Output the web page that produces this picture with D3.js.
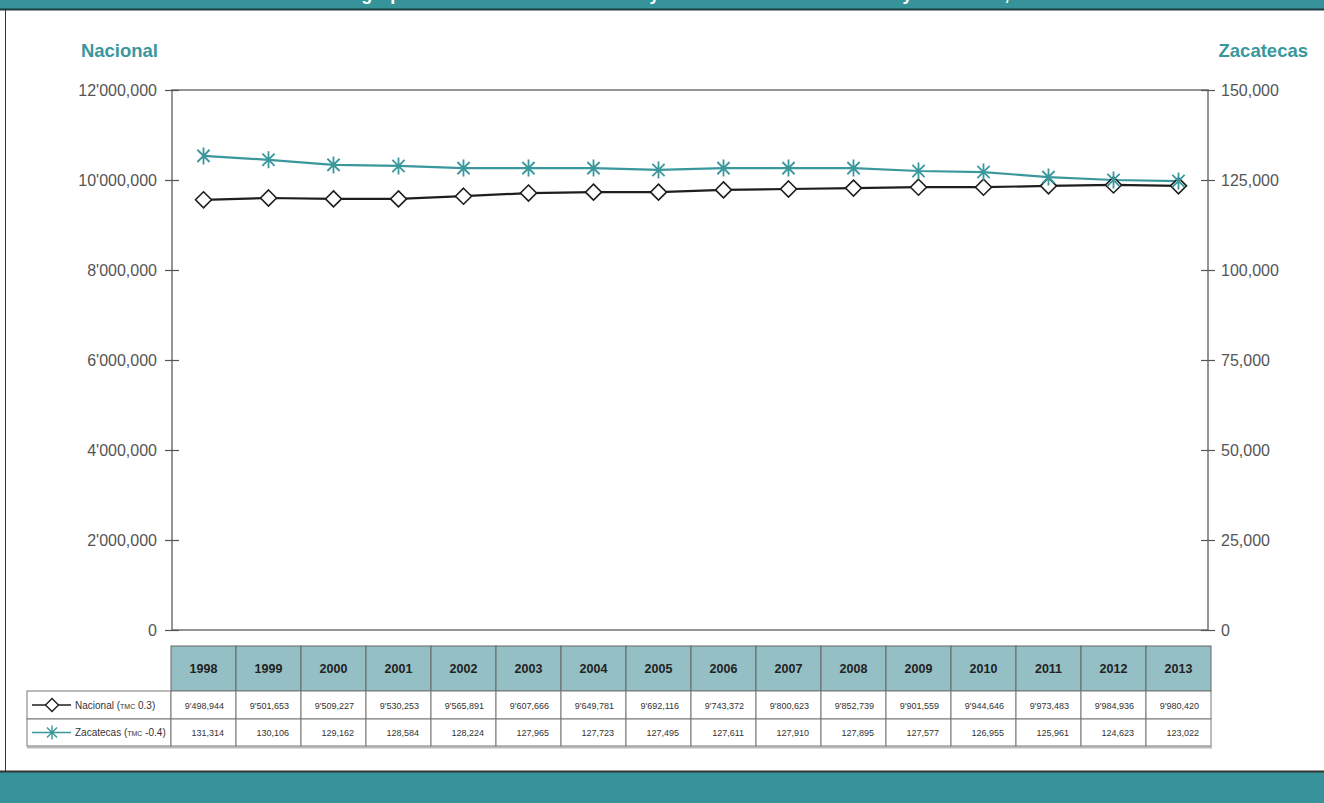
<!DOCTYPE html>
<html>
<head>
<meta charset="utf-8">
<script src="https://cdn.jsdelivr.net/npm/d3@7"></script>
<style>
  html, body { margin: 0; padding: 0; background: #fff; }
  svg { display: block; }
  text { font-family: "Liberation Sans", Arial, sans-serif; }
</style>
</head>
<body>
<svg id="chart" width="1324" height="803"></svg>
<script>
// ---------------- DATA ----------------
const years = ["1998","1999","2000","2001","2002","2003","2004","2005","2006","2007","2008","2009","2010","2011","2012","2013"];
// values printed in the data table
const nacional = [9498944, 9501653, 9509227, 9530253, 9565891, 9607666, 9649781, 9692116, 9743372, 9800623, 9852739, 9901559, 9944646, 9973483, 9984936, 9980420];
const zacatecas = [131314, 130106, 129162, 128584, 128224, 127965, 127723, 127495, 127611, 127910, 127895, 127577, 126955, 125961, 124623, 123022];
const nacionalLine = [9560000, 9600000, 9580000, 9580000, 9640000, 9710000, 9730000, 9730000, 9780000, 9800000, 9820000, 9840000, 9840000, 9870000, 9890000, 9870000];
const zacatecasLine = [131700, 130600, 129200, 128900, 128300, 128300, 128300, 127800, 128300, 128300, 128300, 127500, 127200, 125800, 125000, 124700];
const leftTicks = [0, 2000000, 4000000, 6000000, 8000000, 10000000, 12000000];
const rightTicks = [0, 25000, 50000, 75000, 100000, 125000, 150000];
const seriesNames = ["Nacional", "Zacatecas"];
const seriesTmc = ["0.3", "-0.4"];
const axisTitles = ["Nacional", "Zacatecas"];
const titleText = "Población del grupo de edad escolar normativa y crecimiento anual Nacional y Zacatecas, 1998-2013";

// ---------------- STYLE ----------------
const TEAL = "#37939a";
const TEAL_LINE = "#3a989d";
const HEADER_FILL = "#93bfc5";
const GRID = "#7a7a7a";

const svg = d3.select("#chart");
const W = 1324, H = 803;

// format: 12'000,000 style
function fmt(v) {
  let s = d3.format(",")(v);
  const parts = s.split(",");
  if (parts.length >= 3) s = parts[0] + "'" + parts.slice(1).join(",");
  return s;
}

// frame
svg.append("rect").attr("x", 0).attr("y", 0).attr("width", W).attr("height", 9).attr("fill", TEAL);
// cut title (only its descenders are visible, as in the reference)
svg.append("text").attr("x", 670).attr("y", -0.5).attr("text-anchor", "middle")
  .attr("fill", "#fff").attr("font-weight", "bold").attr("font-size", 18).text(titleText);
svg.append("line").attr("x1", 0).attr("x2", W).attr("y1", 9.5).attr("y2", 9.5).attr("stroke", "#1f3d40").attr("stroke-width", 2);
svg.append("line").attr("x1", 5.5).attr("x2", 5.5).attr("y1", 10).attr("y2", 771).attr("stroke", "#333").attr("stroke-width", 1);
svg.append("rect").attr("x", 0).attr("y", 772).attr("width", W).attr("height", H - 772).attr("fill", TEAL);
svg.append("line").attr("x1", 0).attr("x2", W).attr("y1", 771.5).attr("y2", 771.5).attr("stroke", "#333").attr("stroke-width", 2);

// ---------------- SCALES ----------------
const plot = { left: 172, right: 1208, top: 90, bottom: 630 };
const tableLeft = 171, tableRight = 1211;
const x = d3.scaleBand().domain(years).range([tableLeft, tableRight]).paddingInner(0).paddingOuter(0);
const xc = d => x(d) + x.bandwidth() / 2;
const yL = d3.scaleLinear().domain([0, 12000000]).range([plot.bottom, plot.top]);
const yR = d3.scaleLinear().domain([0, 150000]).range([plot.bottom, plot.top]);

// plot box
svg.append("rect").attr("x", plot.left).attr("y", plot.top)
  .attr("width", plot.right - plot.left).attr("height", plot.bottom - plot.top)
  .attr("fill", "none").attr("stroke", GRID).attr("stroke-width", 1.6);

// axes
const axL = svg.append("g").attr("transform", `translate(${plot.left},0)`)
  .call(d3.axisLeft(yL).tickValues(leftTicks).tickFormat(fmt).tickSizeInner(7).tickSizeOuter(0).tickPadding(8));
axL.select(".domain").remove();
axL.selectAll(".tick line").attr("x1", -7).attr("x2", 7).attr("stroke", "#555").attr("stroke-width", 1.2);
axL.selectAll(".tick text").attr("font-size", 16).attr("fill", "#555").attr("font-family", "Liberation Sans, Arial, sans-serif").attr("dy", "0.32em");

const axR = svg.append("g").attr("transform", `translate(${plot.right},0)`)
  .call(d3.axisRight(yR).tickValues(rightTicks).tickFormat(d3.format(",")).tickSizeInner(7).tickSizeOuter(0).tickPadding(6));
axR.select(".domain").remove();
axR.selectAll(".tick line").attr("x1", -7).attr("x2", 7).attr("stroke", "#555").attr("stroke-width", 1.2);
axR.selectAll(".tick text").attr("font-size", 16).attr("fill", "#555").attr("font-family", "Liberation Sans, Arial, sans-serif").attr("dy", "0.32em");

// axis titles
svg.append("text").attr("x", 158).attr("y", 57).attr("text-anchor", "end")
  .attr("fill", TEAL_LINE).attr("font-weight", "bold").attr("font-size", 18.5).text(axisTitles[0]);
svg.append("text").attr("x", 1308).attr("y", 57).attr("text-anchor", "end")
  .attr("fill", TEAL_LINE).attr("font-weight", "bold").attr("font-size", 18.5).text(axisTitles[1]);

// ---------------- SERIES ----------------
const diamond = (s) => `M0,${-s}L${s},0L0,${s}L${-s},0Z`;
const star = (s) => {
  const d = s * 0.72;
  return `M0,${-s}L0,${s}M${-d},${-d}L${d},${d}M${-d},${d}L${d},${-d}`;
};

const lineN = d3.line().x((d, i) => xc(years[i])).y(d => yL(d));
const lineZ = d3.line().x((d, i) => xc(years[i])).y(d => yR(d));

svg.append("path").datum(nacionalLine).attr("d", lineN).attr("fill", "none").attr("stroke", "#1e1e1e").attr("stroke-width", 2.2);
svg.append("path").datum(zacatecasLine).attr("d", lineZ).attr("fill", "none").attr("stroke", TEAL_LINE).attr("stroke-width", 2.2);

svg.append("g").selectAll("path").data(nacionalLine).join("path")
  .attr("transform", (d, i) => `translate(${xc(years[i])},${yL(d)})`)
  .attr("d", diamond(8)).attr("stroke", "#1e1e1e").attr("stroke-width", 1.6).attr("fill", "#fff");
svg.append("g").selectAll("path").data(zacatecasLine).join("path")
  .attr("transform", (d, i) => `translate(${xc(years[i])},${yR(d)})`)
  .attr("d", star(8.5)).attr("stroke", TEAL_LINE).attr("stroke-width", 1.8).attr("fill", "none");

// ---------------- TABLE ----------------
const hdrTop = 646, hdrBot = 691, r1Bot = 719, r2Bot = 746;
const legLeft = 27;
const tbl = svg.append("g");

// header cells
tbl.selectAll("rect.h").data(years).join("rect").attr("class", "h")
  .attr("x", d => x(d)).attr("y", hdrTop).attr("width", x.bandwidth()).attr("height", hdrBot - hdrTop)
  .attr("fill", HEADER_FILL).attr("stroke", "#666").attr("stroke-width", 1);
tbl.selectAll("text.h").data(years).join("text").attr("class", "h")
  .attr("x", d => xc(d)).attr("y", (hdrTop + hdrBot) / 2 + 4.5).attr("text-anchor", "middle")
  .attr("font-weight", "bold").attr("font-size", 12.5).attr("fill", "#222").text(d => d);

// shadow under table
tbl.append("line").attr("x1", legLeft).attr("x2", tableRight + 1).attr("y1", r2Bot + 1.5).attr("y2", r2Bot + 1.5)
  .attr("stroke", "#bbb").attr("stroke-width", 2);

const rows = [
  { vals: nacional, top: hdrBot, bot: r1Bot, fmt: fmt },
  { vals: zacatecas, top: r1Bot, bot: r2Bot, fmt: d3.format(",") }
];
rows.forEach((r, ri) => {
  tbl.append("rect").attr("x", legLeft).attr("y", r.top).attr("width", tableLeft - legLeft).attr("height", r.bot - r.top)
    .attr("fill", "#fff").attr("stroke", "#777").attr("stroke-width", 1);
  tbl.selectAll(null).data(r.vals).join("rect")
    .attr("x", (d, i) => x(years[i])).attr("y", r.top).attr("width", x.bandwidth()).attr("height", r.bot - r.top)
    .attr("fill", "#fff").attr("stroke", "#777").attr("stroke-width", 1);
  tbl.selectAll(null).data(r.vals).join("text")
    .attr("x", (d, i) => x(years[i]) + x.bandwidth() - 12).attr("y", (r.top + r.bot) / 2 + 3.5)
    .attr("text-anchor", "end").attr("font-size", 9).attr("fill", "#333").text(d => r.fmt(d));

  // legend
  const cy = (r.top + r.bot) / 2;
  tbl.append("line").attr("x1", 32).attr("x2", 71).attr("y1", cy).attr("y2", cy)
    .attr("stroke", ri === 0 ? "#1e1e1e" : TEAL_LINE).attr("stroke-width", 1.6);
  tbl.append("path").attr("transform", `translate(52,${cy})`)
    .attr("d", ri === 0 ? diamond(6.5) : star(7))
    .attr("stroke", ri === 0 ? "#1e1e1e" : TEAL_LINE).attr("stroke-width", 1.4)
    .attr("fill", ri === 0 ? "#fff" : "none");
  const t = tbl.append("text").attr("x", 75).attr("y", cy + 3.5).attr("font-size", 10).attr("fill", "#333");
  t.append("tspan").text(seriesNames[ri] + " (");
  t.append("tspan").attr("font-size", 7).text("TMC");
  t.append("tspan").text(" " + seriesTmc[ri] + ")");
});
</script>
</body>
</html>
